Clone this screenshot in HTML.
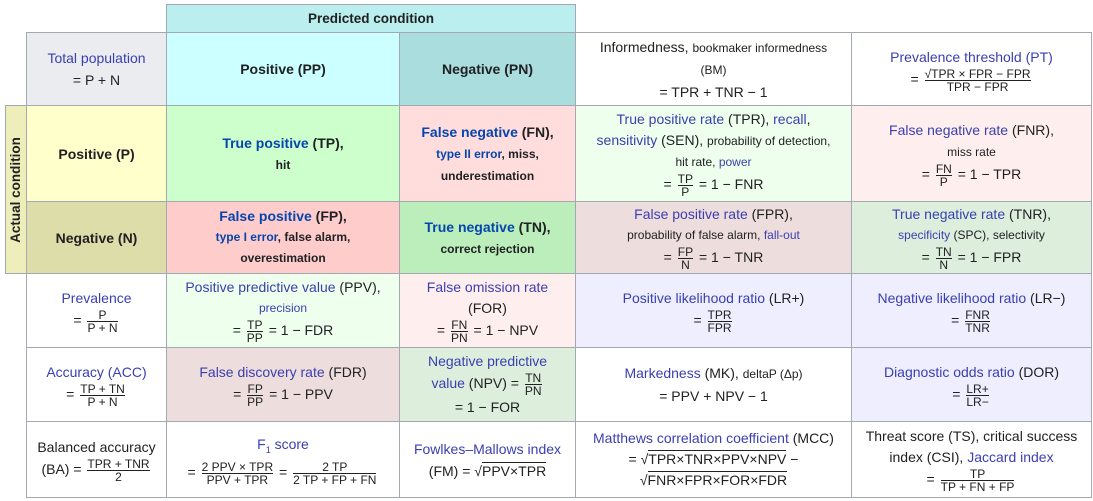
<!DOCTYPE html>
<html><head><meta charset="utf-8"><style>
body{margin:0;width:1093px;height:501px;background:#fff;position:relative;overflow:hidden;font-family:"Liberation Sans","DejaVu Sans",sans-serif;color:#202122;}
.c{position:absolute;box-sizing:border-box;border:1px solid #a2a9b1;display:flex;flex-direction:column;justify-content:center;align-items:center;text-align:center;font-size:14px;line-height:22px;}
.b{font-weight:bold}
.a{color:#3a3fb0}
.ab{color:#0645ad;font-weight:bold}
.s{font-size:12px}
.f{display:inline-flex;flex-direction:column;vertical-align:middle;font-size:12px;line-height:12px;text-align:center;margin:0 2px}
.f span:last-child{border-top:1px solid #202122}
.sq{border-top:1px solid #202122}
</style></head><body>
<div class="c b" style="left:166px;top:4px;width:410px;height:29px;background:#bbeeee;font-size:13.5px">Predicted condition</div>
<div class="c b" style="left:5px;top:105px;width:22px;height:169px;background:#eeeebb;font-size:13.5px"><span style="transform:rotate(-90deg);white-space:nowrap;display:inline-block">Actual condition</span></div>

<div class="c" style="left:26px;top:32px;width:141px;height:74px;background:#eaecf0"><span class="a">Total population</span><span>= P + N</span></div>
<div class="c b" style="left:166px;top:32px;width:234px;height:74px;background:#ccffff">Positive (PP)</div>
<div class="c b" style="left:399px;top:32px;width:177px;height:74px;background:#aadddd">Negative (PN)</div>
<div class="c" style="left:575px;top:32px;width:277px;height:74px"><span>Informedness, <span class="s">bookmaker informedness</span></span><span class="s">(BM)</span><span>= TPR + TNR − 1</span></div>
<div class="c" style="left:851px;top:32px;width:241px;height:74px"><span class="a">Prevalence threshold (PT)</span><span>= <span class="f"><span>√TPR × FPR − FPR</span><span>TPR − FPR</span></span></span></div>

<div class="c b" style="left:26px;top:105px;width:141px;height:97px;background:#ffffcc">Positive (P)</div>
<div class="c b" style="left:166px;top:105px;width:234px;height:97px;background:#ccffcc"><span><span class="ab">True positive</span> (TP),</span><span class="s">hit</span></div>
<div class="c b" style="left:399px;top:105px;width:177px;height:97px;background:#ffdddd"><span><span class="ab">False negative</span> (FN),</span><span class="s"><span class="ab">type II error</span>, miss,</span><span class="s">underestimation</span></div>
<div class="c" style="left:575px;top:105px;width:277px;height:97px;background:#eeffee;line-height:21px"><span><span class="a">True positive rate</span> (TPR), <span class="a">recall</span>,</span><span><span class="a">sensitivity</span> (SEN), <span class="s">probability of detection,</span></span><span class="s">hit rate, <span class="a">power</span></span><span>= <span class="f"><span>TP</span><span>P</span></span> = 1 − FNR</span></div>
<div class="c" style="left:851px;top:105px;width:241px;height:97px;background:#ffeeee"><span class="a">False negative rate <span style="color:#202122">(FNR),</span></span><span class="s">miss rate</span><span>= <span class="f"><span>FN</span><span>P</span></span> = 1 − TPR</span></div>

<div class="c b" style="left:26px;top:201px;width:141px;height:73px;background:#dddda9">Negative (N)</div>
<div class="c b" style="left:166px;top:201px;width:234px;height:73px;background:#ffcccc;line-height:21px"><span><span class="ab">False positive</span> (FP),</span><span class="s"><span class="ab">type I error</span>, false alarm,</span><span class="s">overestimation</span></div>
<div class="c b" style="left:399px;top:201px;width:177px;height:73px;background:#bbeebb"><span><span class="ab">True negative</span> (TN),</span><span class="s">correct rejection</span></div>
<div class="c" style="left:575px;top:201px;width:277px;height:73px;background:#eedddd;line-height:21px"><span><span class="a">False positive rate</span> (FPR),</span><span class="s">probability of false alarm, <span class="a">fall-out</span></span><span>= <span class="f"><span>FP</span><span>N</span></span> = 1 − TNR</span></div>
<div class="c" style="left:851px;top:201px;width:241px;height:73px;background:#ddeedd;line-height:21px"><span><span class="a">True negative rate</span> (TNR),</span><span class="s"><span class="a">specificity</span> (SPC), selectivity</span><span>= <span class="f"><span>TN</span><span>N</span></span> = 1 − FPR</span></div>

<div class="c" style="left:26px;top:273px;width:141px;height:75px"><span class="a">Prevalence</span><span>= <span class="f"><span>P</span><span>P + N</span></span></span></div>
<div class="c" style="left:166px;top:273px;width:234px;height:75px;background:#eeffee;line-height:21px"><span><span class="a">Positive predictive value</span> (PPV),</span><span class="s a">precision</span><span>= <span class="f"><span>TP</span><span>PP</span></span> = 1 − FDR</span></div>
<div class="c" style="left:399px;top:273px;width:177px;height:75px;background:#ffeeee;line-height:21px"><span class="a">False omission rate</span><span>(FOR)</span><span>= <span class="f"><span>FN</span><span>PN</span></span> = 1 − NPV</span></div>
<div class="c" style="left:575px;top:273px;width:277px;height:75px;background:#eeeeff"><span><span class="a">Positive likelihood ratio</span> (LR+)</span><span>= <span class="f"><span>TPR</span><span>FPR</span></span></span></div>
<div class="c" style="left:851px;top:273px;width:241px;height:75px;background:#eeeeff"><span><span class="a">Negative likelihood ratio</span> (LR−)</span><span>= <span class="f"><span>FNR</span><span>TNR</span></span></span></div>

<div class="c" style="left:26px;top:347px;width:141px;height:75px"><span class="a">Accuracy (ACC)</span><span>= <span class="f"><span>TP + TN</span><span>P + N</span></span></span></div>
<div class="c" style="left:166px;top:347px;width:234px;height:75px;background:#eedddd"><span><span class="a">False discovery rate</span> (FDR)</span><span>= <span class="f"><span>FP</span><span>PP</span></span> = 1 − PPV</span></div>
<div class="c" style="left:399px;top:347px;width:177px;height:75px;background:#ddeedd;line-height:21px"><span class="a">Negative predictive</span><span><span class="a">value</span> (NPV) = <span class="f"><span>TN</span><span>PN</span></span></span><span>= 1 − FOR</span></div>
<div class="c" style="left:575px;top:347px;width:277px;height:75px"><span><span class="a">Markedness</span> (MK), <span class="s">deltaP (Δp)</span></span><span>= PPV + NPV − 1</span></div>
<div class="c" style="left:851px;top:347px;width:241px;height:75px;background:#eeeeff"><span><span class="a">Diagnostic odds ratio</span> (DOR)</span><span>= <span class="f"><span>LR+</span><span>LR−</span></span></span></div>

<div class="c" style="left:26px;top:421px;width:141px;height:77px"><span>Balanced accuracy</span><span>(BA) = <span class="f"><span>TPR + TNR</span><span>2</span></span></span></div>
<div class="c" style="left:166px;top:421px;width:234px;height:77px"><span class="a">F<sub style="font-size:9px">1</sub> score</span><span>= <span class="f"><span>2 PPV × TPR</span><span>PPV + TPR</span></span> = <span class="f"><span>2 TP</span><span>2 TP + FP + FN</span></span></span></div>
<div class="c" style="left:399px;top:421px;width:177px;height:77px"><span class="a">Fowlkes–Mallows index</span><span>(FM) = √<span class="sq">PPV×TPR</span></span></div>
<div class="c" style="left:575px;top:421px;width:277px;height:77px;line-height:21px"><span><span class="a">Matthews correlation coefficient</span> (MCC)</span><span>= √<span class="sq">TPR×TNR×PPV×NPV</span> −</span><span>√<span class="sq">FNR×FPR×FOR×FDR</span></span></div>
<div class="c" style="left:851px;top:421px;width:241px;height:77px;line-height:21px"><span>Threat score (TS), critical success</span><span>index (CSI), <span class="a">Jaccard index</span></span><span>= <span class="f"><span>TP</span><span>TP + FN + FP</span></span></span></div>
</body></html>
